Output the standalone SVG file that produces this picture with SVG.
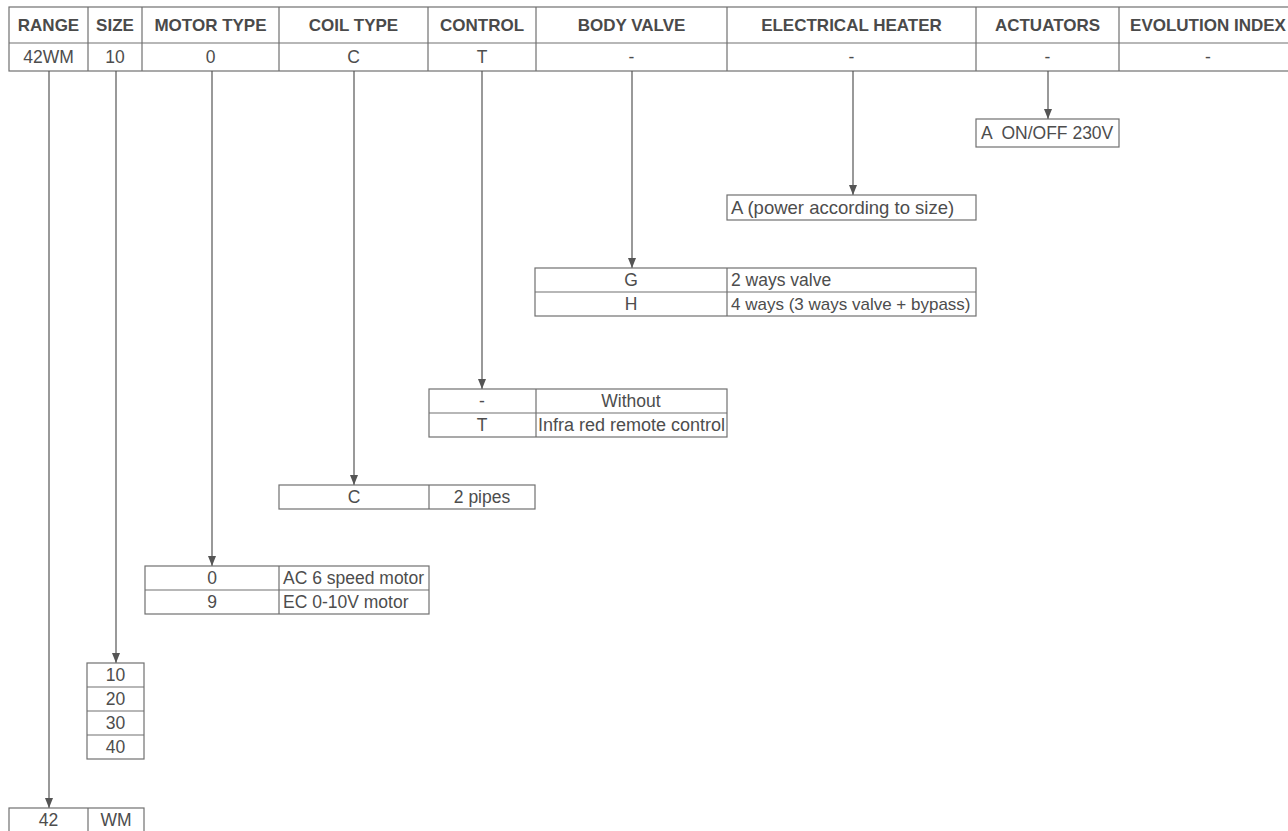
<svg xmlns="http://www.w3.org/2000/svg" width="1288" height="831" viewBox="0 0 1288 831">
<defs>
<style>
.ln{stroke:#707070;stroke-width:1.2;fill:none}
.bx{stroke:#707070;stroke-width:1.2;fill:#fff}
.h{font-family:"Liberation Sans",Arial,sans-serif;font-weight:bold;font-size:17px;fill:#4a4a4a;text-anchor:middle}
.t{font-family:"Liberation Sans",Arial,sans-serif;font-size:17.5px;fill:#4d4d4d}
.c{text-anchor:middle}
.cn{stroke:#555;stroke-width:1.2;fill:none}
</style>
<marker id="ah" viewBox="0 0 10 8" refX="10" refY="4" markerWidth="10" markerHeight="8" markerUnits="userSpaceOnUse" orient="auto">
<path d="M0,0 L10,4 L0,8 z" fill="#555"/>
</marker>
</defs>
<rect width="1288" height="831" fill="#fff"/>

<g id="header">
<rect class="bx" x="9" y="7" width="1290" height="64"/>
<line class="ln" x1="9" y1="43" x2="1299" y2="43"/>
<line class="ln" x1="88" y1="7" x2="88" y2="71"/>
<line class="ln" x1="142" y1="7" x2="142" y2="71"/>
<line class="ln" x1="279" y1="7" x2="279" y2="71"/>
<line class="ln" x1="428" y1="7" x2="428" y2="71"/>
<line class="ln" x1="536" y1="7" x2="536" y2="71"/>
<line class="ln" x1="727" y1="7" x2="727" y2="71"/>
<line class="ln" x1="976" y1="7" x2="976" y2="71"/>
<line class="ln" x1="1119" y1="7" x2="1119" y2="71"/>
<text class="h" x="48.5" y="31">RANGE</text>
<text class="h" x="115" y="31">SIZE</text>
<text class="h" x="210.5" y="31">MOTOR TYPE</text>
<text class="h" x="353.5" y="31">COIL TYPE</text>
<text class="h" x="482" y="31">CONTROL</text>
<text class="h" x="631.5" y="31">BODY VALVE</text>
<text class="h" x="851.5" y="31">ELECTRICAL HEATER</text>
<text class="h" x="1047.5" y="31">ACTUATORS</text>
<text class="h" x="1208" y="31">EVOLUTION INDEX</text>
<text class="t c" x="48.5" y="63">42WM</text>
<text class="t c" x="115" y="63">10</text>
<text class="t c" x="210.5" y="63">0</text>
<text class="t c" x="353.5" y="63">C</text>
<text class="t c" x="482" y="63">T</text>
<text class="t c" x="631.5" y="63">-</text>
<text class="t c" x="851.5" y="63">-</text>
<text class="t c" x="1047.5" y="63">-</text>
<text class="t c" x="1208" y="63">-</text>
</g>

<g id="connectors">
<line class="cn" x1="49" y1="71" x2="49" y2="808" marker-end="url(#ah)"/>
<line class="cn" x1="116" y1="71" x2="116" y2="663" marker-end="url(#ah)"/>
<line class="cn" x1="212" y1="71" x2="212" y2="566" marker-end="url(#ah)"/>
<line class="cn" x1="354" y1="71" x2="354" y2="485" marker-end="url(#ah)"/>
<line class="cn" x1="482" y1="71" x2="482" y2="389" marker-end="url(#ah)"/>
<line class="cn" x1="632" y1="71" x2="632" y2="268" marker-end="url(#ah)"/>
<line class="cn" x1="853" y1="71" x2="853" y2="195" marker-end="url(#ah)"/>
<line class="cn" x1="1048" y1="71" x2="1048" y2="119" marker-end="url(#ah)"/>
</g>

<g id="actuators">
<rect class="bx" x="976" y="119" width="143" height="28"/>
<text class="t" x="981" y="139" xml:space="preserve">A  ON/OFF 230V</text>
</g>

<g id="electrical-heater">
<rect class="bx" x="727" y="195" width="249" height="25"/>
<text class="t" x="731" y="214" style="font-size:18.5px">A (power according to size)</text>
</g>

<g id="body-valve">
<rect class="bx" x="535" y="268" width="441" height="48"/>
<line class="ln" x1="535" y1="292" x2="976" y2="292"/>
<line class="ln" x1="727" y1="268" x2="727" y2="316"/>
<text class="t c" x="631" y="286">G</text>
<text class="t" x="731" y="286">2 ways valve</text>
<text class="t c" x="631" y="310">H</text>
<text class="t" x="731" y="310" style="font-size:17px">4 ways (3 ways valve + bypass)</text>
</g>

<g id="control">
<rect class="bx" x="429" y="389" width="298" height="48"/>
<line class="ln" x1="429" y1="413" x2="727" y2="413"/>
<line class="ln" x1="536" y1="389" x2="536" y2="437"/>
<text class="t c" x="482" y="407">-</text>
<text class="t c" x="631" y="407">Without</text>
<text class="t c" x="482" y="431">T</text>
<text class="t" x="538" y="431" style="font-size:18px">Infra red remote control</text>
</g>

<g id="coil-type">
<rect class="bx" x="279" y="485" width="256" height="24"/>
<line class="ln" x1="429" y1="485" x2="429" y2="509"/>
<text class="t c" x="354" y="503">C</text>
<text class="t c" x="482" y="503">2 pipes</text>
</g>

<g id="motor-type">
<rect class="bx" x="145" y="566" width="284" height="48"/>
<line class="ln" x1="145" y1="590" x2="429" y2="590"/>
<line class="ln" x1="279" y1="566" x2="279" y2="614"/>
<text class="t c" x="212" y="584">0</text>
<text class="t" x="283" y="584">AC 6 speed motor</text>
<text class="t c" x="212" y="608">9</text>
<text class="t" x="283" y="608">EC 0-10V motor</text>
</g>

<g id="size">
<rect class="bx" x="87" y="663" width="57" height="96"/>
<line class="ln" x1="87" y1="687" x2="144" y2="687"/>
<line class="ln" x1="87" y1="711" x2="144" y2="711"/>
<line class="ln" x1="87" y1="735" x2="144" y2="735"/>
<text class="t c" x="115.5" y="681">10</text>
<text class="t c" x="115.5" y="705">20</text>
<text class="t c" x="115.5" y="729">30</text>
<text class="t c" x="115.5" y="753">40</text>
</g>

<g id="range">
<rect class="bx" x="9" y="808" width="135" height="30"/>
<line class="ln" x1="88" y1="808" x2="88" y2="838"/>
<text class="t c" x="48.5" y="826">42</text>
<text class="t c" x="116" y="826">WM</text>
</g>
</svg>
